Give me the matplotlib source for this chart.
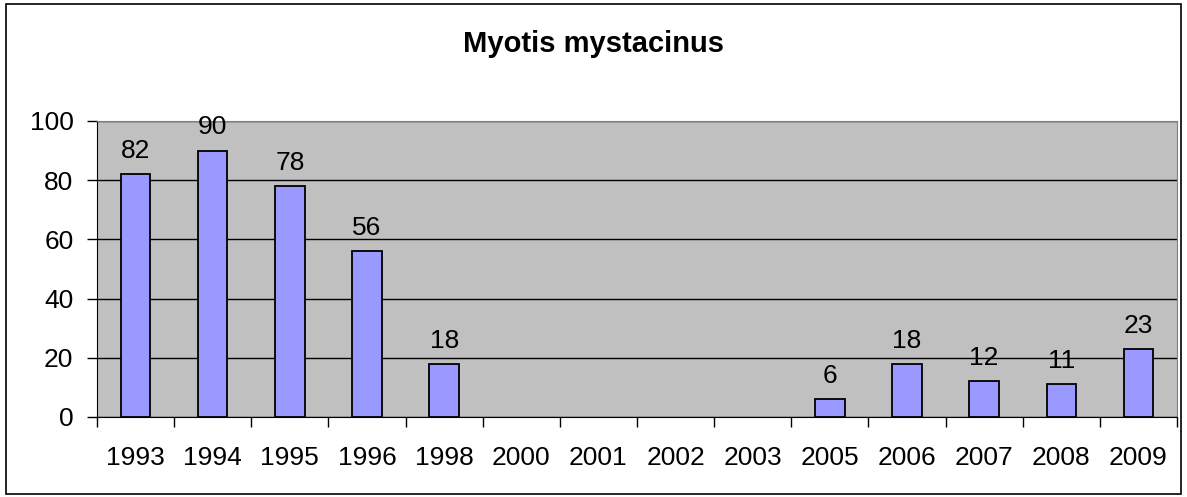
import matplotlib.pyplot as plt
import numpy as np

plt.rcParams['font.family'] = ['Liberation Sans', 'DejaVu Sans']

# Datos
anios = ['1993', '1994', '1995', '1996', '1998', '2000', '2001',
         '2002', '2003', '2005', '2006', '2007', '2008', '2009']
valores = [82, 90, 78, 56, 18, 0, 0, 0, 0, 6, 18, 12, 11, 23]

fig = plt.figure(figsize=(11.87, 4.97), dpi=100)
ax = fig.add_axes([97 / 1187, 80 / 497, 1080 / 1187, 296 / 497])

x = np.arange(len(anios))
v = np.array(valores)
con_dato = v > 0
# Solo se dibujan los años con valor mayor que cero
ax.bar(x[con_dato], v[con_dato], width=0.38, color='#9999FF', edgecolor='black',
       linewidth=1.3, zorder=3)

# Etiquetas de valor
for xi, vi in zip(x[con_dato], v[con_dato]):
    ax.annotate(str(vi), (xi, vi), xytext=(0, 8), textcoords='offset points',
                ha='center', va='bottom', fontsize=19, zorder=4)

ax.set_facecolor('#C0C0C0')
ax.set_xlim(-0.5, len(anios) - 0.5)
ax.set_ylim(0, 100)
ax.set_yticks([0, 20, 40, 60, 80, 100])
ax.yaxis.grid(True, color='black', linewidth=1, zorder=1)
ax.set_axisbelow(True)

# Marcas del eje x entre categorías
ax.set_xticks(np.arange(-0.5, len(anios), 1.0))
ax.set_xticklabels([])
ax.set_xticks(x, minor=True)
ax.set_xticklabels(anios, minor=True, fontsize=19)
ax.tick_params(axis='x', which='minor', length=0, pad=21)
ax.tick_params(axis='x', which='major', length=7, width=1, direction='out')
ax.tick_params(axis='y', length=7, width=1, labelsize=19, pad=10)

for lado in ['top', 'right']:
    ax.spines[lado].set_color('#808080')
ax.spines['left'].set_color('black')
ax.spines['bottom'].set_color('black')

fig.text(0.5, 1 - 44 / 497, 'Myotis mystacinus', ha='center', va='center',
         fontsize=21, fontweight='bold')

# Borde del gráfico completo
borde = plt.Rectangle((6 / 1187, 3 / 497), 1175 / 1187, 490 / 497,
                      transform=fig.transFigure, fill=False,
                      edgecolor='black', linewidth=1.2)
fig.patches.append(borde)

fig.savefig('out.png', dpi=100)
